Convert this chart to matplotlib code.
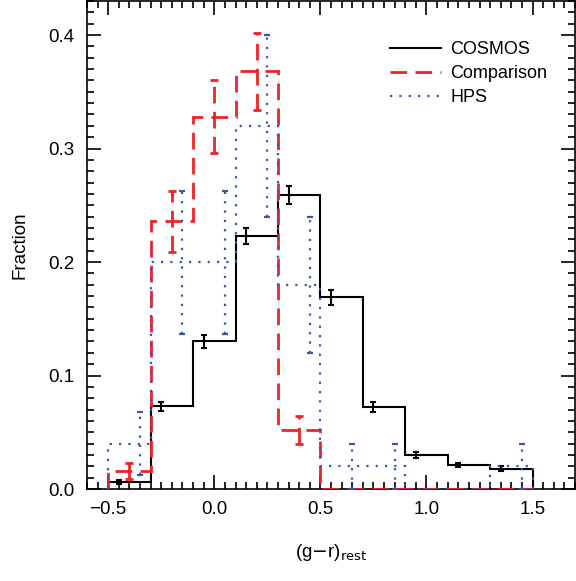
import matplotlib.pyplot as plt
import numpy as np
from matplotlib.ticker import MultipleLocator

plt.rcParams['font.family'] = ['Liberation Sans', 'DejaVu Sans']

edges = np.array([-0.5, -0.3, -0.1, 0.1, 0.3, 0.5, 0.7, 0.9, 1.1, 1.3, 1.5])

cosmos = [0.006, 0.073, 0.130, 0.223, 0.259, 0.169, 0.072, 0.030, 0.021, 0.018]
cosmos_err = [0.002, 0.004, 0.0055, 0.007, 0.008, 0.0066, 0.0044, 0.003, 0.002, 0.002]

comp = [0.016, 0.236, 0.328, 0.368, 0.052, 0, 0, 0, 0, 0]
comp_err = [0.0073, 0.027, 0.032, 0.034, 0.0125, 0, 0, 0, 0, 0]

hps = [0.04, 0.20, 0.20, 0.32, 0.18, 0.02, 0.02, 0, 0, 0.02]
hps_err = [0.028, 0.063, 0.063, 0.08, 0.06, 0.02, 0.02, 0, 0, 0.02]

red = '#ee2229'
blue = '#3a56a8'

fig = plt.figure(figsize=(5.76, 5.81), dpi=100)
ax = fig.add_axes([87/576, 92/581, 488/576, 488/581])

left = edges[:-1]
dash = (0, (6, 3))
dot = (0, (1, 3.2))

# histograms
ax.stairs(cosmos, edges, baseline=0, color='black', lw=1.5, label='COSMOS', zorder=3)
ax.stairs(comp, edges, baseline=0, color=red, lw=2, linestyle=dash, label='Comparison', zorder=4)
ax.stairs(hps, edges, baseline=0, color=blue, lw=1.6, linestyle=dot, label='HPS', zorder=5)

# error bars (only non-zero bins)
def errs(x, y, e, color, ls, lw, cap, z):
    y = np.array(y); e = np.array(e)
    m = y > 0
    eb = ax.errorbar(x[m], y[m], yerr=e[m], fmt='none', ecolor=color, elinewidth=lw,
                     capsize=cap, capthick=lw, zorder=z)
    for c in eb[2]:
        c.set_linestyle(ls)
    return eb

errs(left + 0.05, cosmos, cosmos_err, 'black', '-', 1.5, 2.5, 3)
errs(left + 0.10, comp, comp_err, red, dash, 2, 3, 4)
errs(left + 0.15, hps, hps_err, blue, dot, 1.6, 2.2, 5)

ax.set_xlim(-0.6, 1.7)
ax.set_ylim(0, 0.43)
ax.xaxis.set_major_locator(MultipleLocator(0.5))
ax.xaxis.set_minor_locator(MultipleLocator(0.05))
ax.yaxis.set_major_locator(MultipleLocator(0.1))
ax.yaxis.set_minor_locator(MultipleLocator(0.01))
ax.tick_params(which='both', direction='in', top=True, right=True, width=1.2, labelsize=13.5, pad=9)
ax.tick_params(which='major', length=10)
ax.tick_params(which='minor', length=5)
for s in ax.spines.values():
    s.set_linewidth(1.2)

ax.set_ylabel('Fraction', fontsize=13.5, labelpad=14)
ax.set_xlabel(r'(g$-$r)$_{\rm rest}$', fontsize=13.5, labelpad=17)

ax.legend(loc='upper left', bbox_to_anchor=(390/576, 1 - 41/581), bbox_transform=fig.transFigure,
          frameon=False, fontsize=13, handlelength=2.8, handletextpad=0.55, labelspacing=0.4,
          borderpad=0, borderaxespad=0)

fig.savefig('out.png', dpi=100)
